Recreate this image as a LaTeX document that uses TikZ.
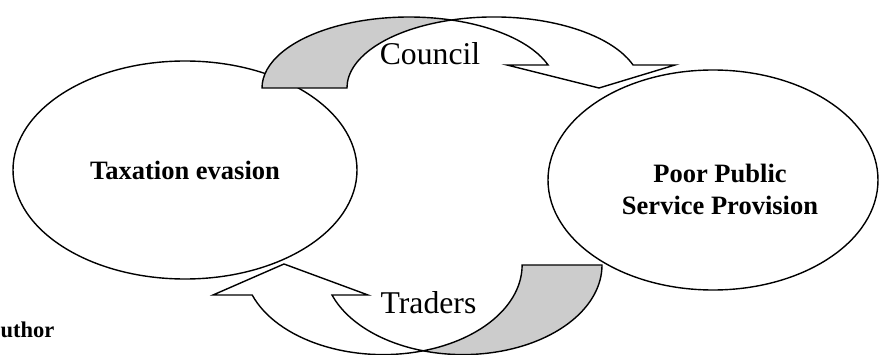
\documentclass[tikz,border=0pt]{standalone}
\usepackage{fontspec}
\setmainfont{Liberation Serif}
\usetikzlibrary{shapes.geometric}
\tikzstyle{cycle} = [ellipse, draw=black, line width=1.4pt, inner sep=0pt, align=center, font=\fontsize{26.5}{32}\selectfont\bfseries]
\tikzstyle{boldtext} = [inner sep=0pt, align=center, font=\fontsize{26.5}{32}\selectfont\bfseries]
\tikzstyle{actor} = [inner sep=0pt, font=\fontsize{31.7}{38}\selectfont]
\tikzstyle{backface} = [draw=black, line width=1.4pt, fill=gray!40]
\tikzstyle{frontface} = [draw=black, line width=1.4pt, fill=white]

\begin{document}
\begin{tikzpicture}[x=1pt, y=1pt]
		\useasboundingbox (0,0) rectangle (879,354);

		\node (evasion) [cycle, minimum width=344pt, minimum height=218pt] at (185,184) {Taxation evasion};
		\node (provision) [cycle, minimum width=330pt, minimum height=220pt] at (713,174) {};
		\node (provision_text) [boldtext] at (720,165) {Poor Public\\Service Provision};

		% upper arrow, from evasion to provision
		\coordinate (council_base) at (262,266);
		\coordinate (council_tip) at (599,266);
		\path[backface] (council_base) arc[start angle=180, end angle=73.2, x radius=147pt, y radius=71pt]
			arc[start angle=106.8, end angle=180, x radius=147pt, y radius=71pt] -- cycle;
		\path[frontface] (451.5,334) arc[start angle=106.8, end angle=18.9, x radius=147pt, y radius=71pt]
			-- (675,289) -- (council_tip) -- (507,289) -- (548.1,289)
			arc[start angle=18.9, end angle=73.2, x radius=147pt, y radius=71pt] -- cycle;

		% lower arrow, from provision back to evasion
		\coordinate (traders_base) at (602,89);
		\coordinate (traders_tip) at (284,90);
		\path[backface] (traders_base) arc[start angle=0, end angle=-106.7, x radius=139pt, y radius=89.6pt]
			arc[start angle=-73.3, end angle=0, x radius=139pt, y radius=89.6pt] -- cycle;
		\path[frontface] (423.1,3.2) arc[start angle=-73.3, end angle=-160.4, x radius=139pt, y radius=89.6pt]
			-- (213,59) -- (traders_tip) -- (368,59) -- (332,59)
			arc[start angle=-160.4, end angle=-106.7, x radius=139pt, y radius=89.6pt] -- cycle;

		\node (council) [actor] at (430,300) {Council};
		\node (traders) [actor] at (428.5,51) {Traders};

		\node (source) [anchor=base west, inner sep=0pt, font=\fontsize{22.5}{27}\selectfont\bfseries] at (0.5,17) {uthor};
	\end{tikzpicture}
\end{document}
